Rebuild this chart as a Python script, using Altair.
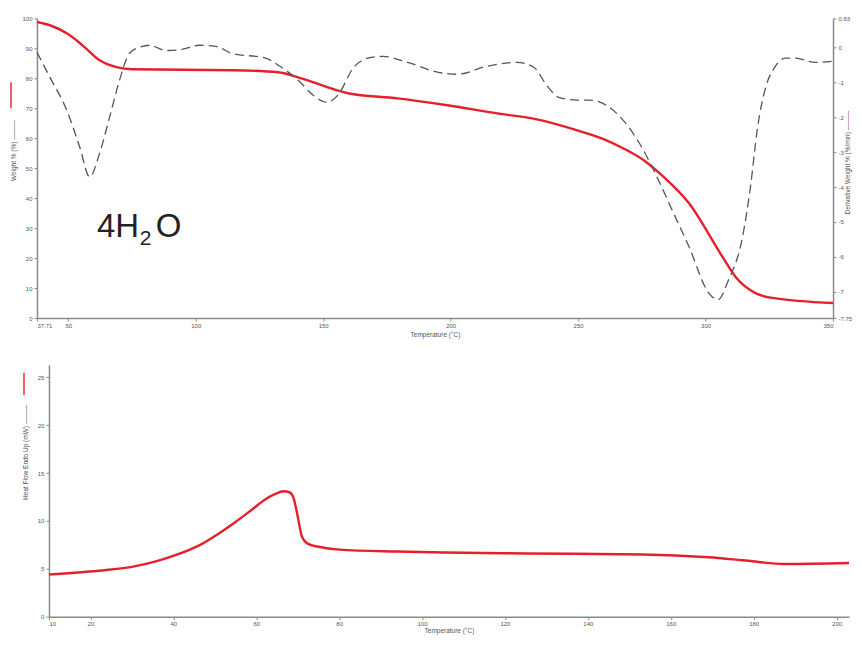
import altair as alt
import pandas as pd

RED = "#e5202b"

# ---- TGA: weight % (left axis) ----
wt_temp = [37.71, 42.8, 49.4, 55.6, 62.3, 68.9, 75.1, 114.1, 132.4, 140.2, 159.7,
           179.2, 198.7, 218.2, 233.8, 249.4, 259.0, 268.0, 276.0, 283.0, 293.5,
           306.7, 311.8, 319.6, 326.2, 350.0]
wt_val = [98.8, 97.7, 95.0, 91.0, 86.0, 83.7, 83.0, 82.7, 82.0, 80.3, 75.0,
          73.3, 71.0, 68.3, 66.3, 62.7, 60.0, 56.5, 52.5, 47.5, 38.3,
          20.3, 13.7, 8.3, 6.7, 5.0]

# ---- DTG: derivative weight (right axis) ----
dw_temp = [37.71, 42.8, 49.4, 54.5, 58.4, 62.3, 66.2, 70.1, 74.0, 77.9, 81.8, 88.4,
           94.6, 101.3, 107.9, 114.1, 127.4, 133.6, 140.2, 146.1, 151.2, 155.8,
           161.7, 167.5, 173.4, 183.1, 194.8, 202.6, 214.3, 226.0, 232.6, 237.7,
           242.4, 249.4, 254.5, 261.1, 267.7, 274.0, 280.6, 287.2, 293.5, 301.2,
           304.8, 309.0, 314.5, 317.6, 320.4, 323.5, 327.4, 331.3, 335.2, 343.0, 350.0]
dw_val = [-0.14, -0.86, -1.80, -2.86, -3.71, -3.03, -2.00, -0.94, -0.17, 0.0, 0.06,
          -0.09, -0.06, 0.06, 0.03, -0.17, -0.31, -0.57, -0.94, -1.37, -1.57, -1.37,
          -0.60, -0.31, -0.26, -0.43, -0.71, -0.77, -0.54, -0.43, -0.57, -1.09,
          -1.43, -1.51, -1.51, -1.66, -2.09, -2.74, -3.66, -4.71, -5.71, -7.03,
          -7.23, -6.66, -5.43, -4.00, -2.29, -1.17, -0.54, -0.31, -0.31, -0.43, -0.40]

# ---- DSC: heat flow ----
hf_temp = [10.0, 22.0, 30.0, 36.0, 41.0, 46.0, 51.0, 55.0, 59.0, 62.0, 64.5, 66.5,
           68.0, 69.0, 70.0, 71.0, 72.5, 75.0, 80.0, 94.0, 106.0, 125.2, 153.3,
           169.1, 177.3, 187.6, 203.0]
hf_val = [4.4, 4.8, 5.2, 5.8, 6.5, 7.4, 8.7, 9.9, 11.2, 12.2, 12.8, 13.1,
          13.0, 12.4, 10.5, 8.4, 7.6, 7.3, 7.0, 6.8, 6.7, 6.6, 6.5,
          6.2, 5.9, 5.5, 5.6]

top_x_ticks = [37.71, 50, 100, 150, 200, 250, 300, 350]
left_y_ticks = [0, 10, 20, 30, 40, 50, 60, 70, 80, 90, 100]
right_y_ticks = [0.83, 0, -1, -2, -3, -4, -5, -6, -7, -7.75]
bot_x_ticks = [10, 20, 40, 60, 80, 100, 120, 140, 160, 180, 200]
bot_y_ticks = [0, 5, 10, 15, 20, 25]

wt_df = pd.DataFrame({"T": wt_temp, "W": wt_val})
dw_df = pd.DataFrame({"T": dw_temp, "D": dw_val})
hf_df = pd.DataFrame({"T": hf_temp, "H": hf_val})
one = pd.DataFrame({"k": [0]})

FONT = "Liberation Sans"
LBL = "'' + datum.value"
ax_common = dict(domainColor="#8a8a8a", domainWidth=1.5, tickColor="#8a8a8a",
                 tickSize=3, labelFontSize=6, labelColor="#555555", labelFont=FONT,
                 titleFontSize=6.5, titleColor="#555555", titleFont=FONT,
                 titleFontWeight="normal", grid=False, labelPadding=2, labelExpr=LBL)

TW, TH = 797, 300
x_top = alt.X("T:Q", scale=alt.Scale(domain=[37.71, 350], nice=False, zero=False),
              axis=alt.Axis(values=top_x_ticks, title="Temperature (°C)",
                            titlePadding=3, **ax_common))

weight = alt.Chart(wt_df).mark_line(color=RED, strokeWidth=2.4, interpolate="monotone").encode(
    x=x_top,
    y=alt.Y("W:Q", scale=alt.Scale(domain=[0, 100], nice=False),
            axis=alt.Axis(values=left_y_ticks, title="Weight % (%) ———", titleY=132,
                          titlePadding=5, **ax_common)),
)
deriv = alt.Chart(dw_df).mark_line(color="#555555", strokeWidth=1.3, strokeDash=[9, 5],
                                   interpolate="monotone").encode(
    x=x_top,
    y=alt.Y("D:Q", scale=alt.Scale(domain=[-7.75, 0.83], nice=False, zero=False),
            axis=alt.Axis(orient="right", values=right_y_ticks,
                          title="Derivative Weight % (%/min) ———", titleAngle=270,
                          titleBaseline="middle", titleX=14, titleY=144, **ax_common)),
)
swatch_top = alt.Chart(one).mark_rule(color=RED, strokeWidth=2, opacity=0.7).encode(
    x=alt.value(-26), y=alt.value(64), y2=alt.value(90))
t4h = alt.Chart(one).mark_text(text="4H", fontSize=33, font=FONT, align="left",
                               baseline="alphabetic", color="#222222").encode(
    x=alt.value(60), y=alt.value(219))
t2 = alt.Chart(one).mark_text(text="2", fontSize=21, font=FONT, align="left",
                              baseline="alphabetic", color="#222222").encode(
    x=alt.value(103), y=alt.value(227))
tO = alt.Chart(one).mark_text(text="O", fontSize=33, font=FONT, align="left",
                              baseline="alphabetic", color="#222222").encode(
    x=alt.value(119), y=alt.value(219))

top = alt.layer(weight, deriv, swatch_top, t4h, t2, tO).resolve_scale(y="independent").properties(
    width=TW, height=TH)

BW, BH = 813, 252
heat = alt.Chart(hf_df).mark_line(color=RED, strokeWidth=2.4, interpolate="monotone").encode(
    x=alt.X("T:Q", scale=alt.Scale(domain=[10, 203], range=[12, BW], nice=False, zero=False),
            axis=alt.Axis(values=bot_x_ticks, title="Temperature (°C)",
                          titlePadding=1, **{**ax_common, "labelPadding": 1})),
    y=alt.Y("H:Q", scale=alt.Scale(domain=[0, 26.3], nice=False),
            axis=alt.Axis(values=bot_y_ticks, title="Heat Flow Endo Up (mW) ———",
                          offset=-12, titleY=87, titlePadding=9, **ax_common)),
)
swatch_bot = alt.Chart(one).mark_rule(color=RED, strokeWidth=2, opacity=0.7).encode(
    x=alt.value(-13), y=alt.value(8), y2=alt.value(30))
bottom = alt.layer(heat, swatch_bot).properties(width=BW, height=BH)

chart = alt.vconcat(top, bottom, spacing=26).properties(
    padding={"left": 2, "top": 7, "right": 0, "bottom": 0},
    background="white",
).configure_view(stroke=None)

chart.save("out.html", embed_options={"renderer": "svg", "actions": False})
